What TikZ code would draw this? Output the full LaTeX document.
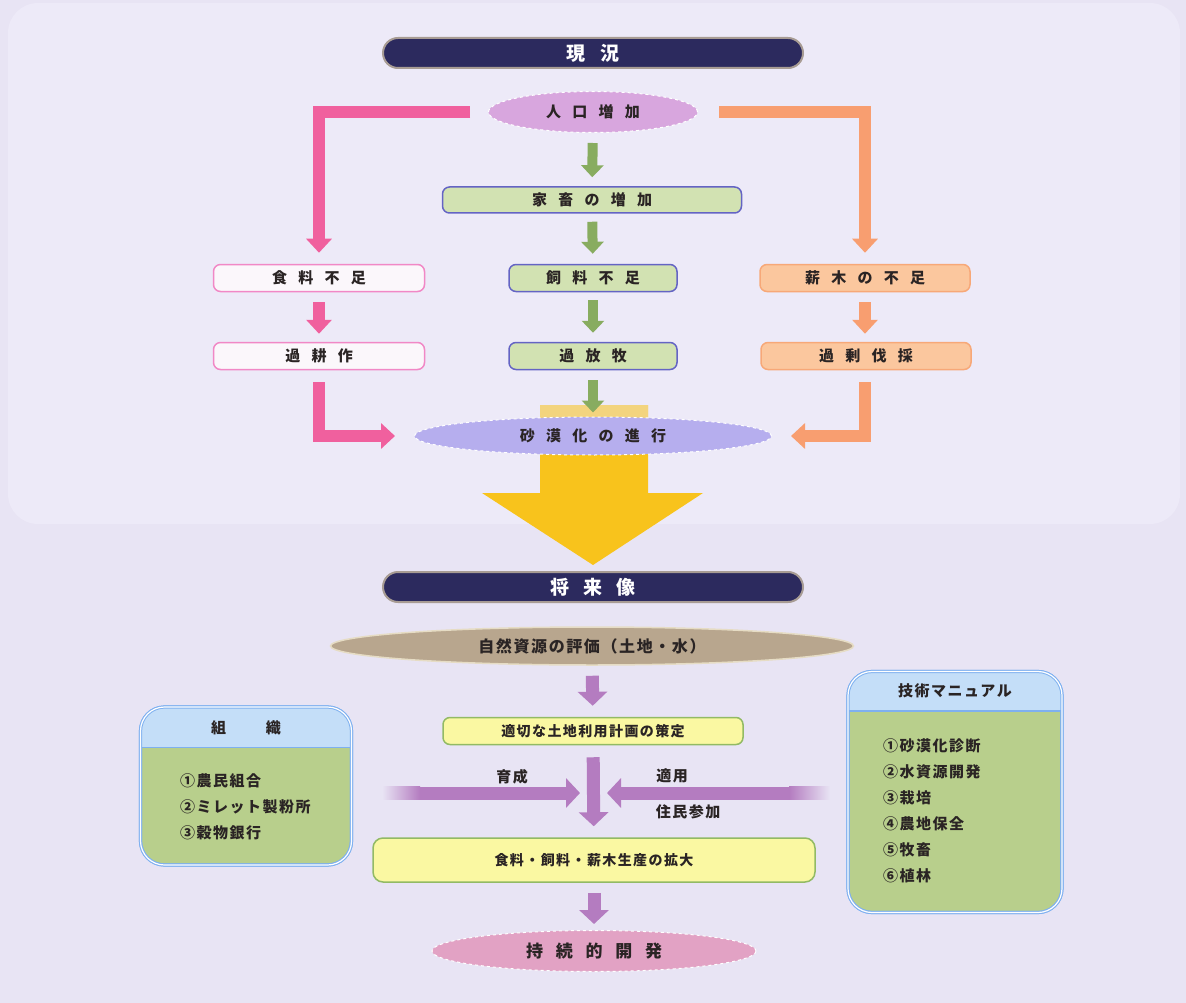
\documentclass[tikz,border=0pt]{standalone}
\usepackage{fontspec}
\setmainfont{Noto Sans CJK JP}
\newfontfamily\jpwide[LetterSpace=75]{Noto Sans CJK JP}
\newfontfamily\jpnarrow[LetterSpace=10]{Noto Sans CJK JP}
\usetikzlibrary{arrows.meta,shapes.geometric}

\definecolor{bgcol}{HTML}{E8E4F4}
\definecolor{panelcol}{HTML}{EDEAF8}
\definecolor{navy}{HTML}{2C2A5E}
\definecolor{bartan}{HTML}{A89C94}
\definecolor{popfill}{HTML}{D8A6DE}
\definecolor{livegreen}{HTML}{D2E2B2}
\definecolor{liveblue}{HTML}{6464C4}
\definecolor{foodwhite}{HTML}{FBF7FB}
\definecolor{foodpink}{HTML}{F188C6}
\definecolor{woodorange}{HTML}{FBC79E}
\definecolor{woodedge}{HTML}{F7A878}
\definecolor{desertblue}{HTML}{B6AEEE}
\definecolor{sandyellow}{HTML}{F8C31C}
\definecolor{paleyellow}{HTML}{F3D47E}
\definecolor{pinkarr}{HTML}{F0609E}
\definecolor{orangearr}{HTML}{F89E70}
\definecolor{greenarr}{HTML}{88AC60}
\definecolor{purplearr}{HTML}{B47CC0}
\definecolor{naturetan}{HTML}{B8A68E}
\definecolor{natureedge}{HTML}{E6DCC4}
\definecolor{planyellow}{HTML}{FAF8A2}
\definecolor{plangreen}{HTML}{92BA64}
\definecolor{sustpink}{HTML}{E2A2C4}
\definecolor{panelgreen}{HTML}{B8CF8C}
\definecolor{headblue}{HTML}{C4DEF8}
\definecolor{panelblue}{HTML}{7EB0F0}
\definecolor{inkcol}{HTML}{2A2424}

\tikzstyle{titlebar} = [rectangle, rounded corners=15pt, fill=navy, draw=bartan, line width=2pt, minimum width=420pt, minimum height=30pt, inner sep=0pt, text=white, font=\jpwide\bfseries\fontsize{19pt}{20pt}\selectfont]
\tikzstyle{ovalnode} = [ellipse, draw=white, dashed, line width=1pt, inner sep=0pt, text=inkcol, font=\jpwide\bfseries\fontsize{15pt}{18pt}\selectfont]
\tikzstyle{boxnode} = [rectangle, rounded corners=7pt, line width=1.5pt, minimum height=27pt, inner sep=0pt, text=inkcol, font=\jpwide\bfseries\fontsize{15pt}{18pt}\selectfont]
\tikzstyle{planbox} = [boxnode, fill=planyellow, draw=plangreen, font=\jpnarrow\bfseries\fontsize{14pt}{18pt}\selectfont]
\tikzstyle{panelbox} = [rectangle, rounded corners=24pt, draw=panelblue, double=white, double distance=1.2pt, line width=1pt]
\tikzstyle{itemtext} = [align=left, inner sep=0pt, text=inkcol, font=\jpnarrow\bfseries\fontsize{15pt}{26pt}\selectfont]
\tikzstyle{greenarrow} = [draw=greenarr, line width=10pt, -{Triangle[width=22pt,length=12pt]}]
\tikzstyle{pinkarrow} = [draw=pinkarr, line width=12pt, -{Triangle[width=25pt,length=14pt]}]
\tikzstyle{orangearrow} = [draw=orangearr, line width=12pt, -{Triangle[width=25pt,length=14pt]}]
\tikzstyle{purplearrow} = [draw=purplearr, line width=13pt, -{Triangle[width=29pt,length=14pt]}]

\begin{document}
\begin{tikzpicture}[x=1pt, y=-1pt]
\useasboundingbox (0,0) rectangle (1186,1003);
\fill[bgcol] (0,0) rectangle (1186,1003);
\fill[panelcol, rounded corners=30pt] (8,3) rectangle (1180,524);
% big yellow arrow
\fill[sandyellow] (540,405) -- (648,405) -- (648,493) -- (703,493) -- (593,565) -- (482,493) -- (540,493) -- cycle;
\fill[paleyellow] (540,405) rectangle (648,420);

% present state
\node[titlebar] (now) at (593,53) {現況};
\node[ovalnode, fill=popfill, minimum width=209pt, minimum height=41pt] (pop) at (593,112) {人口増加};
\node[boxnode, fill=livegreen, draw=liveblue, minimum width=299pt, minimum height=26pt] (stock) at (592,200) {家畜の増加};
\node[boxnode, fill=foodwhite, draw=foodpink, minimum width=211pt] (food) at (319,278) {食料不足};
\node[boxnode, fill=livegreen, draw=liveblue, minimum width=168pt] (fodder) at (593,278) {飼料不足};
\node[boxnode, fill=woodorange, draw=woodedge, minimum width=210pt] (wood) at (865,278) {薪木の不足};
\node[boxnode, fill=foodwhite, draw=foodpink, minimum width=211pt] (crop) at (319,356) {過耕作};
\node[boxnode, fill=livegreen, draw=liveblue, minimum width=168pt] (graze) at (593,356) {過放牧};
\node[boxnode, fill=woodorange, draw=woodedge, minimum width=210pt] (cut) at (866,356) {過剰伐採};
\node[ovalnode, fill=desertblue, minimum width=357pt, minimum height=38pt] (desert) at (593,436) {砂漠化の進行};

\draw[pinkarrow, shorten <=18pt, shorten >=11pt] (pop.west) -| (food.north);
\draw[orangearrow, shorten <=21pt, shorten >=11pt] (pop.east) -| (wood.north);
\draw[greenarrow, shorten <=10pt, shorten >=9pt] (pop) -- (stock);
\draw[greenarrow, shorten <=8pt, shorten >=10pt] (stock) -- (fodder);
\draw[pinkarrow, shorten <=10pt, shorten >=8pt] (food) -- (crop);
\draw[greenarrow, shorten <=8pt, shorten >=9pt] (fodder) -- (graze);
\draw[orangearrow, shorten <=10pt, shorten >=8pt] (wood) -- (wood |- cut.north);
\draw[greenarrow, shorten <=10pt, shorten >=4pt] (graze) -- (desert);
\draw[pinkarrow, shorten <=12pt, shorten >=19pt] (crop.south) |- (desert.west);
\draw[orangearrow, shorten <=12pt, shorten >=19pt] (wood |- cut.south) |- (desert.east);

% future
\node[titlebar] (future) at (593,587) {将来像};
\node[ellipse, fill=naturetan, draw=natureedge, line width=1.5pt, inner sep=0pt, minimum width=523pt, minimum height=38pt, text=inkcol, font=\jpnarrow\bfseries\fontsize{16pt}{18pt}\selectfont] (nature) at (592,646) {自然資源の評価（土地・水）};
\node[planbox, minimum width=300pt] (plan) at (593,731) {適切な土地利用計画の策定};
\node[planbox, rounded corners=10pt, minimum width=442pt, minimum height=44pt] (expand) at (594,860) {食料・飼料・薪木生産の拡大};
\node[ovalnode, fill=sustpink, draw=white, minimum width=324pt, minimum height=41pt, font=\jpwide\bfseries\fontsize{17pt}{18pt}\selectfont] (sustain) at (594,951) {持続的開発};
\coordinate (join) at (593,793);

% side panels
\node[panelbox, fill=panelgreen, minimum width=211pt, minimum height=158pt] (org) at (246,786) {};
\fill[headblue] ([yshift=-41pt]org.north west) [rounded corners=24pt] -- (org.north west) -- (org.north east) [sharp corners] -- ([yshift=-41pt]org.north east) -- cycle;
\draw[panelblue, line width=1.5pt] ([yshift=-41pt]org.north west) -- ([yshift=-41pt]org.north east);
\node[panelbox, minimum width=211pt, minimum height=158pt] at (org) {};
\node[itemtext, font=\bfseries\fontsize{15pt}{18pt}\selectfont] (orghead) at ([yshift=-21pt]org.north) {組\hspace{40pt}織};
\node[itemtext, anchor=north west] (orglist) at (180,773) {①農民組合\\②ミレット製粉所\\③穀物銀行};

\node[panelbox, fill=panelgreen, minimum width=214pt, minimum height=241pt] (tech) at (955,792) {};
\fill[headblue] ([yshift=-40pt]tech.north west) [rounded corners=24pt] -- (tech.north west) -- (tech.north east) [sharp corners] -- ([yshift=-40pt]tech.north east) -- cycle;
\draw[panelblue, line width=1.5pt] ([yshift=-40pt]tech.north west) -- ([yshift=-40pt]tech.north east);
\node[panelbox, minimum width=214pt, minimum height=241pt] at (tech) {};
\node[itemtext, font=\jpnarrow\bfseries\fontsize{15pt}{18pt}\selectfont] (techhead) at ([yshift=-20pt]tech.north) {技術マニュアル};
\node[itemtext, anchor=north west] (techlist) at (883,738) {①砂漠化診断\\②水資源開発\\③栽培\\④農地保全\\⑤牧畜\\⑥植林};

\draw[purplearrow, shorten <=10pt, shorten >=11pt] (nature) -- (plan);
\draw[purplearrow, shorten <=12pt, shorten >=11pt] (plan) -- (expand);
\draw[purplearrow, shorten <=68pt, shorten >=13pt] (org.east |- join) -- (join);
\shade[left color=bgcol, right color=purplearr] (382,786.5) rectangle (420,799.5);
\draw[purplearrow, shorten <=58pt, shorten >=14pt] (tech.west |- join) -- (join);
\shade[left color=purplearr, right color=bgcol] (789,786.5) rectangle (830,799.5);
\draw[purplearrow, shorten <=10pt, shorten >=6pt] (expand) -- (sustain);
\node[itemtext] (raise) at (512,777) {育成};
\node[itemtext] (apply) at (672,776) {適用};
\node[itemtext] (join2) at (688,812) {住民参加};
\end{tikzpicture}
\end{document}
